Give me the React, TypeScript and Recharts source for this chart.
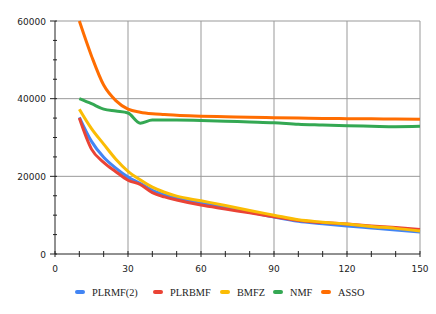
import React from 'react';
import { LineChart, Line, XAxis, YAxis, CartesianGrid } from 'recharts';

const xValues = [10, 15, 20, 25, 30, 35, 40, 45, 50, 60, 70, 80, 90, 100, 110, 120, 130, 140, 150];
const plrmf2 = [35200, 29000, 24900, 22100, 19800, 18200, 16400, 15200, 14300, 13100, 12000, 10800, 9500, 8400, 7800, 7200, 6700, 6200, 5650];
const plrbmf = [35000, 27000, 23600, 21200, 19000, 17900, 15800, 14700, 13900, 12600, 11600, 10600, 9600, 8600, 8100, 7700, 7200, 6800, 6300];
const bmfz = [37300, 32300, 28300, 24400, 21300, 19100, 17200, 15900, 14900, 13700, 12500, 11200, 10000, 8800, 8200, 7700, 7100, 6600, 5950];
const nmf = [40000, 38700, 37300, 36800, 36300, 33700, 34500, 34500, 34500, 34400, 34200, 34000, 33800, 33400, 33200, 33000, 32900, 32800, 32900];
const asso = [60000, 51000, 43500, 39500, 37300, 36500, 36100, 35900, 35700, 35500, 35350, 35200, 35100, 35000, 34900, 34850, 34800, 34750, 34700];

const xTicks = [0, 10, 20, 30, 40, 50, 60, 70, 80, 90, 100, 110, 120, 130, 140, 150];
const yTicks = [0, 5000, 10000, 15000, 20000, 25000, 30000, 35000, 40000, 45000, 50000, 55000, 60000];
const xGrid = [30, 60, 90, 120, 150];
const yGrid = [20000, 40000, 60000];

const series = [
  { key: 'PLRMF(2)', values: plrmf2, color: '#4285f4' },
  { key: 'PLRBMF', values: plrbmf, color: '#ea4335' },
  { key: 'BMFZ', values: bmfz, color: '#fbbc04' },
  { key: 'NMF', values: nmf, color: '#34a853' },
  { key: 'ASSO', values: asso, color: '#ff6d01' },
];

const data = xValues.map((x, i) => {
  const row: Record<string, number> = { x };
  series.forEach(s => { row[s.key] = s.values[i]; });
  return row;
});

const tickFont = '"DejaVu Sans", sans-serif';
const legendFont = '"Liberation Serif", serif';

const XTick = (props: any) => {
  const { x, y, payload } = props;
  const major = payload.value % 30 === 0;
  return (
    <g>
      <line x1={x} x2={x} y1={y - 3} y2={y + 3} stroke="#222" strokeWidth={1} />
      {major && (
        <text x={x} y={y + 18} textAnchor="middle" fontSize={9} fill="#222" fontFamily={tickFont}>
          {payload.value}
        </text>
      )}
    </g>
  );
};

const YTick = (props: any) => {
  const { x, y, payload } = props;
  const major = payload.value % 20000 === 0;
  return (
    <g>
      <line x1={major ? x - 5 : x - 2} x2={x + 2} y1={y} y2={y} stroke="#222" strokeWidth={1} />
      {major && (
        <text x={x - 9} y={y + 3.5} textAnchor="end" fontSize={9} fill="#222" fontFamily={tickFont}>
          {payload.value}
        </text>
      )}
    </g>
  );
};

const legendLeft = [75, 153, 220, 273, 321];

const App = () => (
  <div style={{ position: 'absolute', left: 0, top: 0, width: 436, height: 314, background: '#fff' }}>
    <LineChart width={436} height={314} data={data} margin={{ top: 21, right: 16, bottom: 30, left: 0 }}>
      <CartesianGrid
        horizontalValues={yGrid}
        verticalValues={xGrid}
        stroke="#999"
        strokeWidth={1}
      />
      <XAxis
        dataKey="x"
        type="number"
        domain={[0, 150]}
        ticks={xTicks}
        interval={0}
        tickSize={0}
        tickMargin={0}
        height={30}
        axisLine={{ stroke: '#222' }}
        tickLine={false}
        tick={<XTick />}
      />
      <YAxis
        type="number"
        domain={[0, 60000]}
        ticks={yTicks}
        interval={0}
        tickSize={0}
        tickMargin={0}
        width={55}
        axisLine={{ stroke: '#222' }}
        tickLine={false}
        tick={<YTick />}
      />
      {series.map(s => (
        <Line
          key={s.key}
          dataKey={s.key}
          type="monotone"
          stroke={s.color}
          strokeWidth={3}
          dot={false}
          isAnimationActive={false}
        />
      ))}
    </LineChart>
    {series.map((s, i) => (
      <div
        key={s.key}
        style={{ position: 'absolute', left: legendLeft[i], top: 286, display: 'flex', alignItems: 'center', height: 12 }}
      >
        <span style={{ display: 'inline-block', width: 10, height: 4, borderRadius: 2, background: s.color }} />
        <span style={{ marginLeft: 7, fontFamily: legendFont, fontSize: 10.3, color: '#222', whiteSpace: 'pre' }}>{s.key}</span>
      </div>
    ))}
  </div>
);

export default App;
